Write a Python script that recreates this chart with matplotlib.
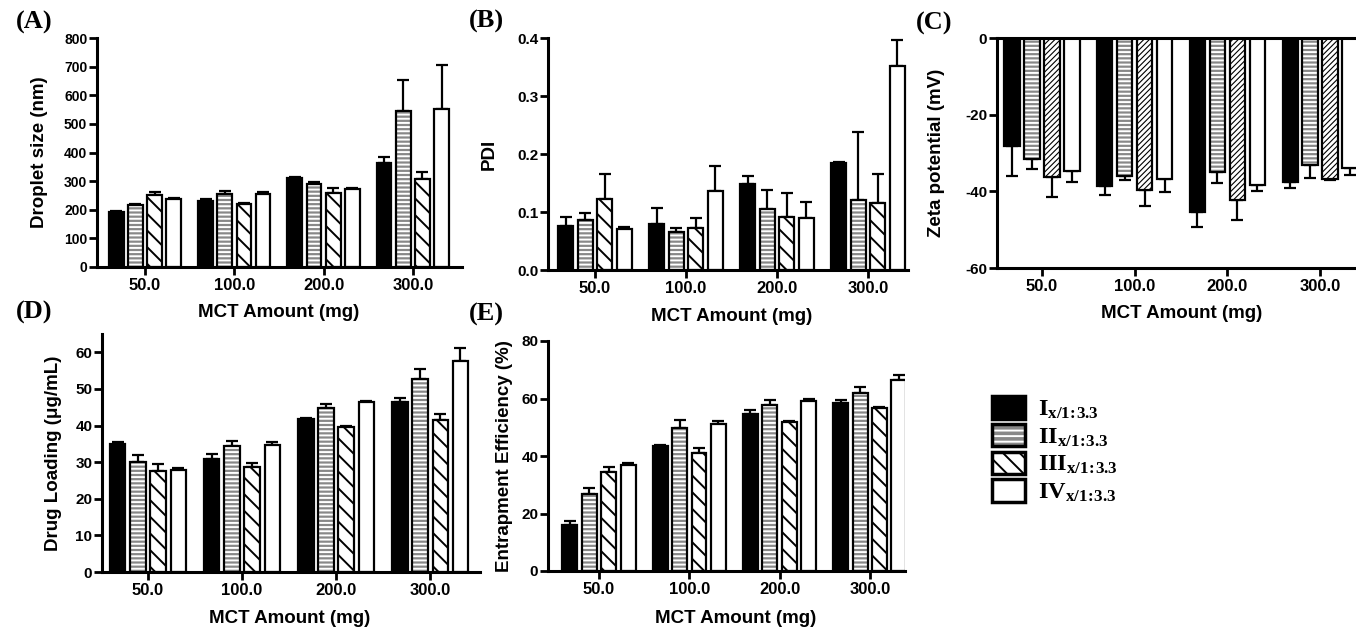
import numpy as np
import matplotlib
matplotlib.use("Agg")
import matplotlib.pyplot as plt
from matplotlib.patches import Patch

plt.rcParams['font.family'] = ['Liberation Sans', 'DejaVu Sans']
plt.rcParams['font.weight'] = 'bold'
plt.rcParams['axes.labelweight'] = 'bold'
plt.rcParams['hatch.linewidth'] = 1.4
plt.rcParams['mathtext.fontset'] = 'custom'
plt.rcParams['mathtext.rm'] = 'Liberation Serif'
plt.rcParams['mathtext.bf'] = 'Liberation Serif:bold'

W, H = 1356, 632

# MCT amount groups and formulations
amounts = ['50.0', '100.0', '200.0', '300.0']
formulas = ['I', 'II', 'III', 'IV']

# rows = formulation I..IV, columns = MCT amount
droplet_size = [[192, 229, 311, 364], [215, 256, 291, 544], [253, 221, 258, 308], [236, 256, 274, 551]]
droplet_err = [[4, 7, 5, 20], [6, 10, 5, 108], [8, 3, 19, 24], [5, 5, 2, 153]]

pdi = [[0.076, 0.079, 0.149, 0.184], [0.087, 0.065, 0.106, 0.121],
       [0.123, 0.073, 0.092, 0.116], [0.070, 0.137, 0.089, 0.352]]
pdi_err = [[0.015, 0.028, 0.013, 0.003], [0.012, 0.008, 0.032, 0.117],
           [0.042, 0.017, 0.040, 0.049], [0.005, 0.043, 0.029, 0.045]]

zeta = [[-28.1, -38.6, -45.3, -37.5], [-31.6, -36.0, -34.9, -33.1],
        [-36.2, -39.6, -42.2, -36.8], [-34.6, -36.9, -38.3, -34.0]]
zeta_err = [[7.8, 2.3, 3.9, 1.7], [2.7, 1.0, 2.9, 3.5], [5.2, 4.3, 5.2, 0.3], [2.9, 3.2, 1.7, 1.7]]

loading = [[34.9, 30.8, 41.7, 46.3], [30.0, 34.3, 44.7, 52.6], [27.6, 28.8, 39.5, 41.5], [27.9, 34.7, 46.4, 57.7]]
loading_err = [[0.5, 1.5, 0.3, 1.2], [2.0, 1.6, 1.2, 2.8], [1.9, 1.1, 0.5, 1.7], [0.4, 0.8, 0.2, 3.6]]

entrap = [[16.1, 43.4, 54.7, 58.4], [26.7, 49.7, 57.6, 62.0], [34.4, 41.2, 51.8, 56.8], [36.9, 51.2, 59.0, 66.5]]
entrap_err = [[1.2, 0.3, 1.4, 1.0], [2.2, 2.7, 2.0, 2.0], [1.8, 1.7, 0.3, 0.2], [0.5, 1.0, 0.9, 1.8]]

GREY = '#888888'
STEP = 0.215
WIDTH = 0.165

fig = plt.figure(figsize=(W / 100, H / 100), dpi=100)


def drawPanel(rect, xlim, ylim, yticks, means, errs, ylabel, ylabX, xlabPos, tag, tagPos,
              diag='\\\\', diagLW=None, yTickFS=11):
    # rect in image pixels: left, top, right, bottom
    left, top, right, bottom = rect
    ax = fig.add_axes([left / W, 1 - bottom / H, (right - left) / W, (bottom - top) / H])
    negative = ylim[1] <= 0
    x = np.arange(len(amounts))
    fills = ['black', GREY, 'white', 'white']
    hatches = [None, '----', diag, None]
    hcols = ['black', 'white', 'black', 'black']
    for k in range(len(formulas)):
        pos = x + (k - 1.5) * STEP
        m = np.array(means[k])
        e = np.array(errs[k])
        yerr = [e, 0 * e] if negative else [0 * e, e]
        ax.errorbar(pos, m, yerr=yerr, fmt='none', ecolor='black', elinewidth=1.6, capsize=4.5, capthick=1.6, zorder=1)
        bars = ax.bar(pos, m, WIDTH, color=fills[k], edgecolor=hcols[k], hatch=hatches[k], linewidth=0, zorder=2)
        if k == 2 and diagLW is not None:
            for b in bars:
                if hasattr(b, 'set_hatch_linewidth'):
                    b.set_hatch_linewidth(diagLW)
        ax.bar(pos, m, WIDTH, fill=False, edgecolor='black', linewidth=1.6, zorder=3)
    ax.set_xlim(xlim)
    ax.set_ylim(ylim)
    ax.set_xticks(x)
    ax.set_xticklabels(amounts)
    ax.set_yticks(yticks)
    ax.spines['right'].set_visible(False)
    ax.spines['top'].set_visible(negative)
    for s in ax.spines.values():
        s.set_linewidth(2.2)
    ax.tick_params(axis='both', direction='out', length=6, width=2.0)
    ax.tick_params(axis='x', labelsize=12, pad=2)
    ax.tick_params(axis='y', labelsize=yTickFS, pad=1)
    ax.set_ylabel(ylabel, fontsize=13.5)
    ax.set_xlabel('MCT Amount (mg)', fontsize=13.5)
    ax.yaxis.set_label_coords((ylabX - left) / (right - left), 0.5)
    ax.xaxis.set_label_coords((xlabPos[0] - left) / (right - left), (bottom - xlabPos[1]) / (bottom - top))
    fig.text(tagPos[0] / W, 1 - tagPos[1] / H, tag, ha='center', va='center',
             family='Liberation Serif', fontweight='bold', fontsize=19)
    return ax


drawPanel((97, 38, 462, 267), (-0.538, 3.55), (0, 800), range(0, 801, 100), droplet_size, droplet_err,
          'Droplet size (nm)', 48, (279, 304), '(A)', (34, 22), yTickFS=10)
drawPanel((548, 38, 908, 270), (-0.516, 3.44), (0, 0.4), [0.0, 0.1, 0.2, 0.3, 0.4], pdi, pdi_err,
          'PDI', 498, (732, 308), '(B)', (486, 21))
axC = drawPanel((997, 38, 1380, 268), (-0.485, 3.646), (-60, 0), [-60, -40, -20, 0], zeta, zeta_err,
                'Zeta potential (mV)', 945, (1182, 305), '(C)', (934, 23), diag='//////', diagLW=0.8)
axC.set_yticklabels(['-60', '-40', '-20', '0'])
drawPanel((102, 334, 480, 572), (-0.489, 3.53), (0, 65), range(0, 61, 10), loading, loading_err,
          'Drug Loading (\u03bcg/mL)', 62, (290, 610), '(D)', (34, 312))
drawPanel((548, 341, 905, 571), (-0.565, 3.39), (0, 80), range(0, 81, 20), entrap, entrap_err,
          'Entrapment Efficiency (%)', 513, (736, 610), '(E)', (486, 314))

# Legend
edge = Patch(fill=False, edgecolor='black', linewidth=2.5)
handles = [
    Patch(facecolor='black', edgecolor='black', linewidth=2.5),
    (Patch(facecolor=GREY, edgecolor='white', hatch='---', linewidth=0), edge),
    (Patch(facecolor='white', edgecolor='black', hatch='\\\\', linewidth=0), edge),
    Patch(facecolor='white', edgecolor='black', linewidth=2.5),
]
labels = [r'$\mathbf{%s_{x/1\!:\!3.3}}$' % f for f in formulas]
fig.legend(handles, labels, loc='upper left', bbox_to_anchor=(992 / W, 1 - 396 / H), frameon=False,
           fontsize=17.5, handlelength=1.35, handleheight=1.05, handletextpad=0.55, labelspacing=0.12,
           borderpad=0, borderaxespad=0)

fig.savefig('out.png', dpi=100)
